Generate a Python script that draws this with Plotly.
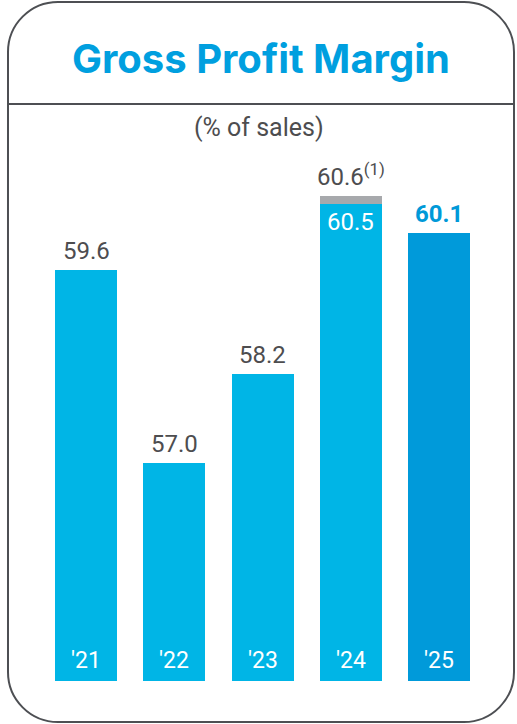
import plotly.graph_objects as go

years = ["'21", "'22", "'23", "'24", "'25"]
margin_vals = [59.6, 57.0, 58.2, 60.5, 60.1]
adjusted_24 = 60.6          # '24 value with adjustment (1)
bar_colors = ["#00B5E6", "#00B5E6", "#00B5E6", "#00B5E6", "#009ADA"]

W, H = 517, 724
ml, mr, mt, mb = 42, 34, 134, 43
pw, ph = W - ml - mr, H - mt - mb
y0 = 54.06
y1 = y0 + ph / 74.13

def PX(px):
    return (px - ml) / pw

def PY(py):
    return (H - mb - py) / ph

fig = go.Figure()
fig.add_trace(go.Bar(x=years, y=margin_vals, marker=dict(color=bar_colors, line=dict(width=0)),
                     hoverinfo="skip"))
cap = [None, None, None, adjusted_24 - margin_vals[3], None]
fig.add_trace(go.Bar(x=years, y=cap, marker=dict(color="#A7A9AC", line=dict(width=0)),
                     hoverinfo="skip"))

num_font = "Roboto"
gray = "#4D4D4F"
ann = []
for i, (yr, v) in enumerate(zip(years, margin_vals)):
    ann.append(dict(x=yr, y=y0, yref="y", xref="x", text=yr, showarrow=False,
                    yanchor="bottom", yshift=5,
                    font=dict(family=num_font, size=23, color="white")))
    if i == 3:
        ann.append(dict(x=yr, y=v, text=f"{v:.1f}", showarrow=False, yanchor="top", yshift=-2,
                        font=dict(family=num_font, size=24, color="white")))
        ann.append(dict(x=yr, y=adjusted_24, text=f"{adjusted_24:.1f}<sup>(1)</sup>", showarrow=False,
                        yanchor="bottom", yshift=3,
                        font=dict(family=num_font, size=24, color=gray)))
    elif i == 4:
        ann.append(dict(x=yr, y=v, text=f"<b>{v:.1f}</b>", showarrow=False, yanchor="bottom", yshift=3,
                        font=dict(family=num_font, size=24, color="#0099D8")))
    else:
        ann.append(dict(x=yr, y=v, text=f"{v:.1f}", showarrow=False, yanchor="bottom", yshift=3,
                        font=dict(family=num_font, size=24, color=gray)))

ann.append(dict(xref="paper", yref="paper", x=PX(W / 2 + 2), y=PY(58), text="<b>Gross Profit Margin</b>",
                showarrow=False, xanchor="center", yanchor="middle",
                font=dict(family="Inter", size=40, color="#009FDF")))
ann.append(dict(xref="paper", yref="paper", x=PX(259), y=PY(127), text="(% of sales)",
                showarrow=False, xanchor="center", yanchor="middle",
                font=dict(family=num_font, size=25, color=gray)))

# rounded border
L, R, T, B, r = 8, 514, 2, 722, 50
k = 0.5523 * r
pts = [
    f"M {PX(L + r)},{PY(T)}",
    f"L {PX(R - r)},{PY(T)}",
    f"C {PX(R - r + k)},{PY(T)} {PX(R)},{PY(T + r - k)} {PX(R)},{PY(T + r)}",
    f"L {PX(R)},{PY(B - r)}",
    f"C {PX(R)},{PY(B - r + k)} {PX(R - r + k)},{PY(B)} {PX(R - r)},{PY(B)}",
    f"L {PX(L + r)},{PY(B)}",
    f"C {PX(L + r - k)},{PY(B)} {PX(L)},{PY(B - r + k)} {PX(L)},{PY(B - r)}",
    f"L {PX(L)},{PY(T + r)}",
    f"C {PX(L)},{PY(T + r - k)} {PX(L + r - k)},{PY(T)} {PX(L + r)},{PY(T)} Z",
]
shapes = [
    dict(type="path", xref="paper", yref="paper", path=" ".join(pts),
         line=dict(color="#4D4F53", width=2), fillcolor="rgba(0,0,0,0)"),
    dict(type="line", xref="paper", yref="paper", x0=PX(L), x1=PX(R), y0=PY(104), y1=PY(104),
         line=dict(color="#4D4F53", width=2)),
]

fig.update_layout(
    width=W, height=H, margin=dict(l=ml, r=mr, t=mt, b=mb),
    barmode="stack", bargap=0.297, showlegend=False,
    paper_bgcolor="white", plot_bgcolor="white",
    xaxis=dict(visible=False),
    yaxis=dict(visible=False, range=[y0, y1]),
    annotations=ann, shapes=shapes,
)
fig.write_html("out.html")
